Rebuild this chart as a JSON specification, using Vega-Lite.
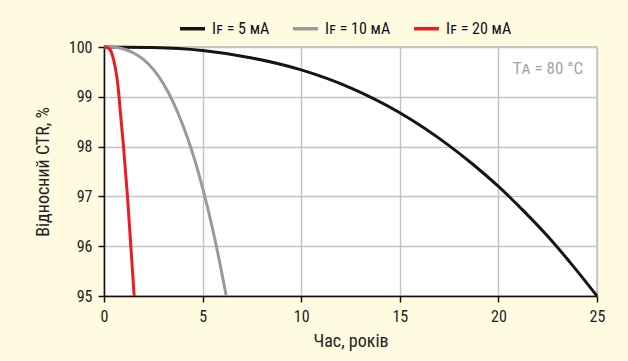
{
  "$schema": "https://vega.github.io/schema/vega-lite/v6.json",
  "width": 493,
  "height": 249,
  "autosize": {"type": "none"},
  "padding": {"left": 104, "top": 47, "right": 31, "bottom": 65},
  "background": "#fffbe1",
  "config": {
    "view": {"fill": "white", "stroke": "#bdbdbd", "strokeWidth": 1.5},
    "font": "Liberation Sans Narrow, Roboto Condensed, DejaVu Sans Condensed, sans-serif"
  },
  "datasets": {
    "curves": [
      {"series": "I\ua730 = 5 мА", "t": 0, "y": 100},
      {"series": "I\ua730 = 5 мА", "t": 2.5, "y": 99.99},
      {"series": "I\ua730 = 5 мА", "t": 5, "y": 99.93},
      {"series": "I\ua730 = 5 мА", "t": 7.5, "y": 99.78},
      {"series": "I\ua730 = 5 мА", "t": 10, "y": 99.54},
      {"series": "I\ua730 = 5 мА", "t": 12.5, "y": 99.18},
      {"series": "I\ua730 = 5 мА", "t": 15, "y": 98.68},
      {"series": "I\ua730 = 5 мА", "t": 17.5, "y": 98.02},
      {"series": "I\ua730 = 5 мА", "t": 18.75, "y": 97.63},
      {"series": "I\ua730 = 5 мА", "t": 20, "y": 97.2},
      {"series": "I\ua730 = 5 мА", "t": 21.25, "y": 96.72},
      {"series": "I\ua730 = 5 мА", "t": 22.5, "y": 96.2},
      {"series": "I\ua730 = 5 мА", "t": 23.75, "y": 95.62},
      {"series": "I\ua730 = 5 мА", "t": 25, "y": 95.0},
      {"series": "I\ua730 = 10 мА", "t": 0, "y": 100},
      {"series": "I\ua730 = 10 мА", "t": 0.5, "y": 99.995},
      {"series": "I\ua730 = 10 мА", "t": 1.0, "y": 99.96},
      {"series": "I\ua730 = 10 мА", "t": 1.5, "y": 99.88},
      {"series": "I\ua730 = 10 мА", "t": 2.0, "y": 99.75},
      {"series": "I\ua730 = 10 мА", "t": 2.5, "y": 99.55},
      {"series": "I\ua730 = 10 мА", "t": 3.0, "y": 99.27},
      {"series": "I\ua730 = 10 мА", "t": 3.5, "y": 98.9},
      {"series": "I\ua730 = 10 мА", "t": 4.0, "y": 98.43},
      {"series": "I\ua730 = 10 мА", "t": 4.5, "y": 97.86},
      {"series": "I\ua730 = 10 мА", "t": 5.0, "y": 97.17},
      {"series": "I\ua730 = 10 мА", "t": 5.5, "y": 96.36},
      {"series": "I\ua730 = 10 мА", "t": 5.85, "y": 95.71},
      {"series": "I\ua730 = 10 мА", "t": 6.2, "y": 95.0},
      {"series": "I\ua730 = 20 мА", "t": 0, "y": 100},
      {"series": "I\ua730 = 20 мА", "t": 0.15, "y": 99.99},
      {"series": "I\ua730 = 20 мА", "t": 0.3, "y": 99.95},
      {"series": "I\ua730 = 20 мА", "t": 0.45, "y": 99.8},
      {"series": "I\ua730 = 20 мА", "t": 0.56, "y": 99.61},
      {"series": "I\ua730 = 20 мА", "t": 0.65, "y": 99.4},
      {"series": "I\ua730 = 20 мА", "t": 0.73, "y": 99.14},
      {"series": "I\ua730 = 20 мА", "t": 0.85, "y": 98.6},
      {"series": "I\ua730 = 20 мА", "t": 0.99, "y": 98.0},
      {"series": "I\ua730 = 20 мА", "t": 1.19, "y": 97.0},
      {"series": "I\ua730 = 20 мА", "t": 1.36, "y": 96.0},
      {"series": "I\ua730 = 20 мА", "t": 1.53, "y": 95.0}
    ],
    "note": [
      {"t": 24.3, "y": 99.55, "label": "Tᴀ = 80 °C"}
    ]
  },
  "layer": [
    {
      "data": {"name": "curves"},
      "mark": {"type": "line", "strokeWidth": 3, "interpolate": "monotone"},
      "encoding": {
        "x": {
          "field": "t", "type": "quantitative",
          "scale": {"domain": [0, 25], "nice": false, "zero": false},
          "axis": {
            "title": "Час, років", "values": [0, 5, 10, 15, 20, 25],
            "grid": true, "gridColor": "#c4c4c4", "gridWidth": 1.5,
            "domainColor": "#111", "domainWidth": 1.5,
            "tickColor": "#111", "tickWidth": 1.5, "tickSize": 6,
            "labelFlush": false,
            "labelFontSize": 16, "labelColor": "#222", "labelPadding": 6,
            "titleFontSize": 18, "titleFontWeight": "normal", "titleColor": "#222", "titlePadding": 8
          }
        },
        "y": {
          "field": "y", "type": "quantitative",
          "scale": {"domain": [95, 100], "nice": false, "zero": false},
          "axis": {
            "title": "Відносний CTR, %", "values": [95, 96, 97, 98, 99, 100],
            "grid": true, "gridColor": "#c4c4c4", "gridWidth": 1.5,
            "domainColor": "#111", "domainWidth": 1.5,
            "tickColor": "#111", "tickWidth": 1.5, "tickSize": 6,
            "labelFlush": false,
            "labelFontSize": 16, "labelColor": "#222", "labelPadding": 6,
            "titleFontSize": 18, "titleFontWeight": "normal", "titleColor": "#222", "titlePadding": 16
          }
        },
        "color": {
          "field": "series", "type": "nominal", "sort": null,
          "scale": {
            "domain": ["I\ua730 = 5 мА", "I\ua730 = 10 мА", "I\ua730 = 20 мА"],
            "range": ["#151515", "#9a9a9a", "#ec1c24"]
          },
          "legend": {
            "title": null, "orient": "none", "direction": "horizontal",
            "legendX": 74, "legendY": -33, "padding": 0,
            "symbolType": "stroke", "symbolSize": 625, "symbolStrokeWidth": 3.5,
            "labelFontSize": 16, "labelColor": "#111", "columnPadding": 16,
            "labelOffset": 5
          }
        }
      }
    },
    {
      "data": {"name": "note"},
      "mark": {"type": "text", "align": "right", "baseline": "middle", "fontSize": 17, "color": "#a4a4a4"},
      "encoding": {
        "x": {"field": "t", "type": "quantitative"},
        "y": {"field": "y", "type": "quantitative"},
        "text": {"field": "label"}
      }
    }
  ]
}
